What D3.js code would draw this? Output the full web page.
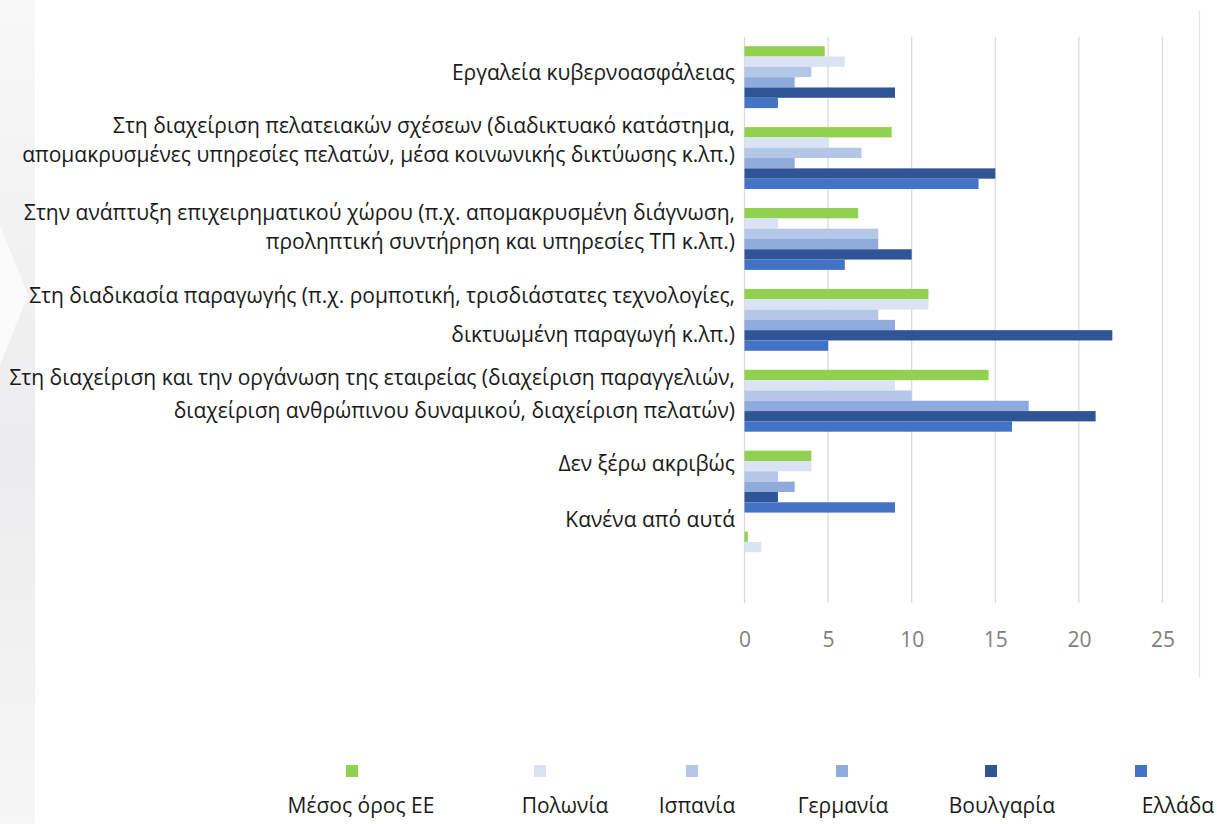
<!DOCTYPE html>
<html><head><meta charset="utf-8">
<script src="https://cdn.jsdelivr.net/npm/d3@7"></script>
<style>
html,body{margin:0;padding:0;background:#fff;}
svg{display:block;}
</style></head>
<body>
<svg id="chart" width="1217" height="824"></svg>
<script>
// ---- data ----
const categories = [
  ["Εργαλεία κυβερνοασφάλειας"],
  ["Στη διαχείριση πελατειακών σχέσεων (διαδικτυακό κατάστημα,", "απομακρυσμένες υπηρεσίες πελατών, μέσα κοινωνικής δικτύωσης κ.λπ.)"],
  ["Στην ανάπτυξη επιχειρηματικού χώρου (π.χ. απομακρυσμένη διάγνωση,", "προληπτική συντήρηση και υπηρεσίες ΤΠ κ.λπ.)"],
  ["Στη διαδικασία παραγωγής (π.χ. ρομποτική, τρισδιάστατες τεχνολογίες,", "δικτυωμένη παραγωγή κ.λπ.)"],
  ["Στη διαχείριση και την οργάνωση της εταιρείας (διαχείριση παραγγελιών,", "διαχείριση ανθρώπινου δυναμικού, διαχείριση πελατών)"],
  ["Δεν ξέρω ακριβώς"],
  ["Κανένα από αυτά"]
];
const seriesNames = ["Μέσος όρος ΕΕ", "Πολωνία", "Ισπανία", "Γερμανία", "Βουλγαρία", "Ελλάδα"];
const euAverage = [4.8, 8.8, 6.8, 11, 14.6, 4, 0.2];
const poland    = [6, 5, 2, 11, 9, 4, 1];
const spain     = [4, 7, 8, 8, 10, 2, 0];
const germany   = [3, 3, 8, 9, 17, 3, 0];
const bulgaria  = [9, 15, 10, 22, 21, 2, 0];
const greece    = [2, 14, 6, 5, 16, 9, 0];
const xTicks = [0, 5, 10, 15, 20, 25];

// ---- styles / layout ----
const colors = ["#92D050", "#DAE3F3", "#B4C7E7", "#8FAADC", "#2F5597", "#4472C4"];
const seriesValues = [euAverage, poland, spain, germany, bulgaria, greece];
const labelFont = "'Open Sans', 'DejaVu Sans', sans-serif";
// per-category label vertical offset (px from band centre) and line gap
const labelDy = [-5, -18, -12, -5, -7, -18, -43];
const lineGap = [0, 29, 29, 39, 33, 0, 0];
const legendSwatchX = [352, 540, 692, 842, 991, 1141];
const legendTextX = [361, 565, 697, 843, 1002, 1178];

const svg = d3.select("#chart");

// left decorative background
const defs = svg.append("defs");
const grad = defs.append("linearGradient").attr("id", "lg").attr("x1", 0).attr("y1", 0).attr("x2", 0).attr("y2", 1);
grad.append("stop").attr("offset", "0%").attr("stop-color", "#f8f8f9");
grad.append("stop").attr("offset", "55%").attr("stop-color", "#ececee");
grad.append("stop").attr("offset", "100%").attr("stop-color", "#f6f6f7");
svg.append("rect").attr("x", 0).attr("y", 0).attr("width", 35).attr("height", 824).attr("fill", "url(#lg)");
svg.append("path").attr("d", "M0,225 L28,295 L0,365 Z").attr("fill", "#fbfbfb");

const x = d3.scaleLinear().domain([0, 25]).range([744.5, 1162.5]);
const y = d3.scaleBand().domain(d3.range(categories.length)).range([36.7, 603]).paddingInner(0.235).paddingOuter(0.1175);
const ySub = d3.scaleBand().domain(d3.range(seriesNames.length)).range([0, y.bandwidth()]);

// gridlines
svg.append("g").selectAll("line").data(xTicks).join("line")
  .attr("x1", d => x(d)).attr("x2", d => x(d))
  .attr("y1", 36.7).attr("y2", 603)
  .attr("stroke", "#d9d9d9").attr("stroke-width", 1.2);

// right border line
svg.append("line").attr("x1", 1199.5).attr("x2", 1199.5).attr("y1", 10).attr("y2", 677)
  .attr("stroke", "#e3e3e3").attr("stroke-width", 1.2);

// bars
const groups = svg.append("g").selectAll("g").data(categories).join("g")
  .attr("transform", (d, i) => `translate(0,${y(i)})`);
groups.selectAll("rect").data((d, i) => seriesValues.map((s, k) => ({k, v: s[i]}))).join("rect")
  .attr("x", x(0))
  .attr("y", d => ySub(d.k))
  .attr("width", d => x(d.v) - x(0))
  .attr("height", ySub.bandwidth())
  .attr("fill", d => colors[d.k]);

// x axis tick labels
const xAxis = d3.axisBottom(x).tickValues(xTicks).tickSize(0).tickPadding(0);
const gx = svg.append("g").attr("transform", "translate(0,632)").call(xAxis);
gx.select(".domain").remove();
gx.selectAll("text").attr("font-family", labelFont).attr("font-size", 21).attr("fill", "#808080");

// category labels
const lab = svg.append("g");
categories.forEach((lines, i) => {
  const cy = y(i) + y.bandwidth() / 2 + labelDy[i];
  const n = lines.length;
  lines.forEach((t, j) => {
    lab.append("text")
      .attr("x", 735)
      .attr("y", cy + (j - (n - 1) / 2) * lineGap[i])
      .attr("dy", "0.35em")
      .attr("text-anchor", "end")
      .attr("font-family", labelFont)
      .attr("font-size", 21)
      .attr("fill", "#1a1a1a")
      .text(t);
  });
});

// legend
const leg = svg.append("g");
seriesNames.forEach((name, k) => {
  leg.append("rect").attr("x", legendSwatchX[k] - 6).attr("y", 765).attr("width", 12).attr("height", 12).attr("fill", colors[k]);
  leg.append("text").attr("x", legendTextX[k]).attr("y", 806).attr("dy", "0.35em")
    .attr("text-anchor", "middle").attr("font-family", labelFont).attr("font-size", 21).attr("fill", "#1a1a1a")
    .text(name);
});
</script>
</body></html>
